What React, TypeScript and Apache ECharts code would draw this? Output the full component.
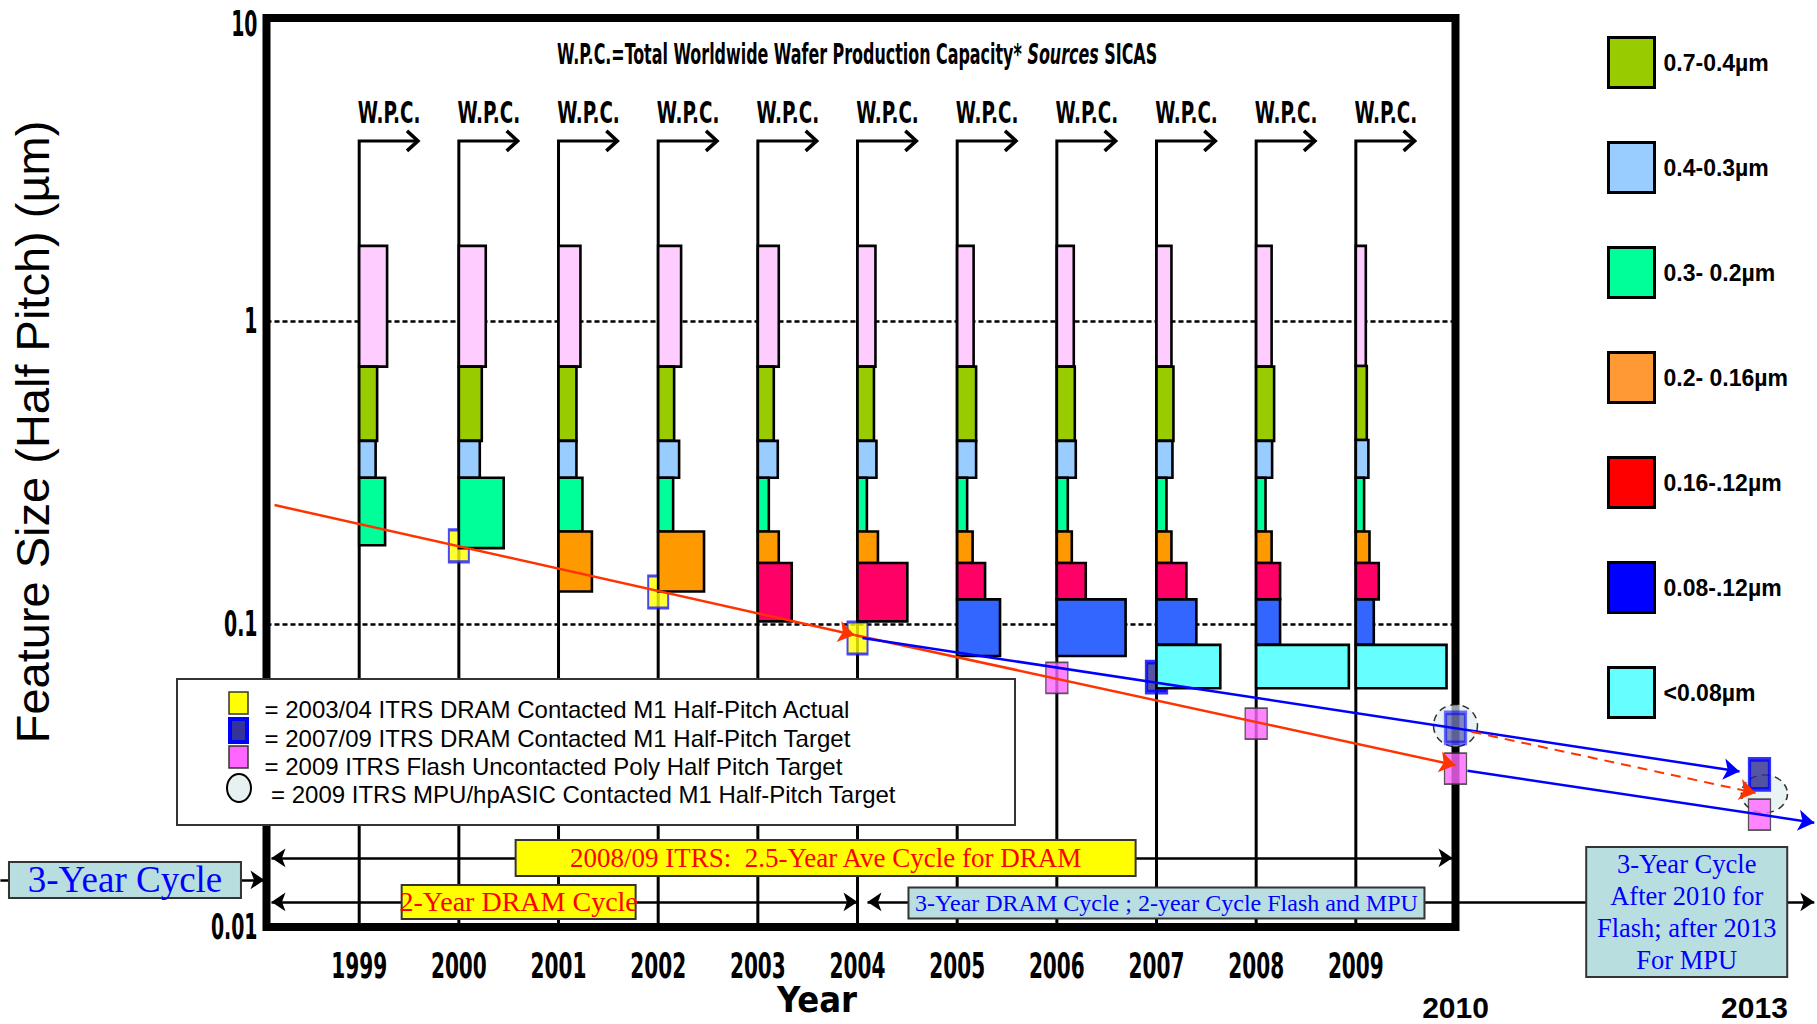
import React, { useEffect, useRef } from "react";
import * as echarts from "echarts";

const NARROW = "'Liberation Sans Narrow', 'Arial Narrow', 'DejaVu Sans Condensed', sans-serif";
const SANS = "'Liberation Sans', Arial, Helvetica, sans-serif";
const SERIF = "'Liberation Serif', 'Times New Roman', serif";

// Years that carry a W.P.C. (wafer production capacity) profile
const years = [1999, 2000, 2001, 2002, 2003, 2004, 2005, 2006, 2007, 2008, 2009];
const wpcLevel = 3.93; // feature size where each W.P.C. arrow turns right
const wpcArrowYears = 0.59; // horizontal length of each W.P.C. arrow

// Tick labels of the log feature-size axis
const yTicks = [10, 1, 0.1, 0.01];
const xStart = 1998.07;
const xEnd = 2010;

// Feature-size bands, top to bottom
const bandNames = [">0.7µm", "0.7-0.4µm", "0.4-0.3µm", "0.3- 0.2µm", "0.2- 0.16µm", "0.16-.12µm", "0.08-.12µm", "<0.08µm"];
const barColors = ["#FFCCFF", "#99CC00", "#99CCFF", "#00FF99", "#FF9900", "#FF0066", "#3366FF", "#66FFFF"];
const legendColors = ["#FFCCFF", "#99CC00", "#99CCFF", "#00FF99", "#FF9933", "#FF0000", "#0000FF", "#66FFFF"];
const bandTop = 1.77;

// Share of capacity per band and year (bar width, in years of the x scale)
const widthAbove07 = [0.28, 0.27, 0.22, 0.23, 0.21, 0.18, 0.165, 0.17, 0.15, 0.155, 0.1];
const width07to04 = [0.18, 0.23, 0.18, 0.16, 0.16, 0.165, 0.19, 0.18, 0.17, 0.18, 0.11];
const width04to03 = [0.165, 0.21, 0.18, 0.21, 0.2, 0.19, 0.19, 0.19, 0.16, 0.16, 0.126];
const width03to02 = [0.26, 0.45, 0.24, 0.15, 0.11, 0.094, 0.1, 0.11, 0.1, 0.094, 0.083];
const width02to016 = [null, null, 0.335, 0.46, 0.21, 0.205, 0.155, 0.15, 0.15, 0.155, 0.137];
const width016to012 = [null, null, null, null, 0.34, 0.5, 0.28, 0.29, 0.3, 0.24, 0.23];
const width012to008 = [null, null, null, null, null, null, 0.43, 0.69, 0.4, 0.24, 0.18];
const widthBelow008 = [null, null, null, null, null, null, null, null, 0.64, 0.93, 0.91];

// Lower edge of each band per year (µm); the upper edge is the lower edge of the band above
const lowAbove07 = [0.707, 0.707, 0.707, 0.707, 0.707, 0.707, 0.707, 0.707, 0.707, 0.707, 0.71];
const low07to04 = [0.402, 0.402, 0.402, 0.402, 0.402, 0.402, 0.402, 0.402, 0.402, 0.402, 0.405];
const low04to03 = [0.304, 0.304, 0.304, 0.304, 0.304, 0.304, 0.304, 0.304, 0.304, 0.304, 0.304];
const low03to02 = [0.182, 0.178, 0.202, 0.202, 0.202, 0.202, 0.202, 0.202, 0.202, 0.202, 0.202];
const low02to016 = [null, null, 0.128, 0.128, 0.159, 0.159, 0.159, 0.159, 0.159, 0.159, 0.159];
const low016to012 = [null, null, null, null, 0.102, 0.102, 0.1206, 0.1206, 0.1206, 0.1206, 0.1206];
const low012to008 = [null, null, null, null, null, null, 0.0784, 0.0784, 0.0853, 0.0853, 0.0853];
const lowBelow008 = [null, null, null, null, null, null, null, null, 0.0614, 0.0614, 0.0614];

const bandWidths = [widthAbove07, width07to04, width04to03, width03to02, width02to016, width016to012, width012to008, widthBelow008];
const bandLows = [lowAbove07, low07to04, low04to03, low03to02, low02to016, low016to012, low012to008, lowBelow008];

// ITRS half-pitch points [year, µm]
const dramActual = [[2000, 0.181], [2002, 0.1275], [2004, 0.0899]];
const dramTarget = [[2007, 0.0668], [2010, 0.0454], [2013.05, 0.0319]];
const flashTarget = [[2006, 0.0664], [2008, 0.0469], [2010, 0.0333], [2013.05, 0.0235]];
const mpuTarget = [[2010, 0.0462], [2013.1, 0.0275]];

// Trend lines [year, µm]
const dramTrendActual = [[1998.15, 0.247], [2003.97, 0.092], [2010, 0.0342]];
const dramTrendTarget = [[2004.05, 0.0899], [2012.85, 0.0326]];
const flashTrend = [[2010.12, 0.0328], [2013.6, 0.0221]];
const mpuTrend = [[2010.16, 0.0441], [2013.01, 0.0277]];

// Cycle spans: [from year, to year, level]
const cycleSpans = [
  [1998.12, 2009.97, 0.0169],
  [1998.12, 2004.0, 0.0121],
  [2004.1, 2013.6, 0.0121],
];
const leadInSpan = [1995.4, 1998.05, 0.0143];

const noteTexts = [
  "3-Year Cycle",
  "2008/09 ITRS:  2.5-Year Ave Cycle for DRAM",
  "2-Year DRAM Cycle",
  "3-Year DRAM Cycle ; 2-year Cycle Flash and MPU",
  "3-Year Cycle\nAfter 2010 for\nFlash; after 2013\nFor MPU",
];
const notePositions = [[1996.65, 0.0143], [2003.68, 0.0169], [2000.6, 0.0121], [2007.1, 0.012], [2012.32, 0.0112]];

const milestoneYears = [2010, 2013];

const legendRows = [
  "= 2003/04 ITRS DRAM Contacted M1 Half-Pitch Actual",
  "= 2007/09 ITRS DRAM Contacted M1 Half-Pitch Target",
  "= 2009 ITRS Flash Uncontacted Poly Half Pitch Target",
  "= 2009 ITRS MPU/hpASIC Contacted M1 Half-Pitch Target",
];

const TEAL = "#B9DEE0";
const noteBoxes = [
  { w: 232, h: 36, fill: TEAL, color: "#0000FF", size: 37, lh: 36 },
  { w: 620, h: 36, fill: "#FFFF00", color: "#FF0000", size: 27, lh: 32 },
  { w: 234, h: 34, fill: "#FFFF00", color: "#FF0000", size: 28, lh: 32 },
  { w: 516, h: 31, fill: TEAL, color: "#0000FF", size: 24, lh: 28 },
  { w: 201, h: 130, fill: TEAL, color: "#0000FF", size: 26.5, lh: 32 },
];

function textStyle(extra: any) {
  const s: any = { fill: "#000", ...extra };
  if (s.align) s.textAlign = s.align;
  if (s.verticalAlign) s.textVerticalAlign = s.verticalAlign;
  return s;
}

function bandData(b: number) {
  const out: number[][] = [];
  years.forEach((yr, i) => {
    const w = bandWidths[b][i];
    const lo = bandLows[b][i];
    if (w == null || lo == null) return;
    const hi = b === 0 ? bandTop : (bandLows[b - 1][i] as number);
    out.push([yr, lo, hi, w]);
  });
  return out;
}

function bandSeries(b: number) {
  const color = barColors[b];
  return {
    type: "custom",
    name: bandNames[b],
    z: 4,
    itemStyle: { color: legendColors[b] },
    encode: { x: 0, y: [1, 2] },
    data: bandData(b),
    renderItem: (_p: any, api: any) => {
      const x0 = api.value(0);
      const lo = api.value(1);
      const hi = api.value(2);
      const w = api.value(3);
      const a = api.coord([x0, hi]);
      const c = api.coord([x0 + w, lo]);
      return {
        type: "rect",
        shape: { x: a[0], y: a[1], width: c[0] - a[0], height: c[1] - a[1] },
        style: { fill: color, stroke: "#000", lineWidth: 2.6 },
      };
    },
  };
}

function renderWpc(_p: any, api: any) {
  const yr = api.value(0);
  const lvl = api.value(1);
  const base = api.coord([yr, 0.01]);
  const corner = api.coord([yr, lvl]);
  const tip = api.coord([yr + wpcArrowYears, lvl]);
  return {
    type: "group",
    children: [
      {
        type: "polyline",
        shape: { points: [base, corner, tip] },
        style: { stroke: "#000", lineWidth: 3, fill: "none", lineJoin: "miter" },
      },
      {
        type: "polyline",
        shape: { points: [[tip[0] - 11, tip[1] - 10], [tip[0], tip[1]], [tip[0] - 11, tip[1] + 10]] },
        style: { stroke: "#000", lineWidth: 3.5, fill: "none" },
      },
      {
        type: "text",
        x: corner[0] + 30,
        y: corner[1] - 28,
        scaleX: 0.68,
        style: textStyle({ text: "W.P.C.", fontSize: 30, fontWeight: "bold", fontFamily: NARROW, align: "center", verticalAlign: "middle" }),
      },
    ],
  };
}

function renderYearLabel(_p: any, api: any) {
  const p = api.coord([api.value(0), 0.01]);
  return {
    type: "text",
    x: p[0],
    y: p[1] + 38,
    scaleX: 0.62,
    style: textStyle({ text: String(api.value(0)), fontSize: 36, fontWeight: "bold", fontFamily: NARROW, align: "center", verticalAlign: "middle" }),
  };
}

function renderYTick(_p: any, api: any) {
  const v = api.value(1);
  const p = api.coord([api.value(0), v]);
  return {
    type: "text",
    x: p[0] - 9,
    // keep the top label inside the canvas
    y: Math.max(p[1], 24),
    scaleX: 0.6,
    style: textStyle({ text: String(v), fontSize: 35, fontWeight: "bold", fontFamily: NARROW, align: "right", verticalAlign: "middle" }),
  };
}

function renderMilestone(_p: any, api: any) {
  const p = api.coord([api.value(0), 0.01]);
  return {
    type: "text",
    x: p[0],
    y: p[1] + 80,
    style: textStyle({ text: String(api.value(0)), fontSize: 30, fontWeight: "bold", fontFamily: SANS, align: "center", verticalAlign: "middle" }),
  };
}

function renderNote(params: any, api: any) {
  const i = params.dataIndex;
  const box = noteBoxes[i];
  const p = api.coord([api.value(0), api.value(1)]);
  return {
    type: "group",
    children: [
      {
        type: "rect",
        shape: { x: p[0] - box.w / 2, y: p[1] - box.h / 2, width: box.w, height: box.h },
        style: { fill: box.fill, stroke: "#333", lineWidth: 2 },
      },
      {
        type: "text",
        x: p[0],
        y: p[1],
        style: textStyle({
          text: noteTexts[i],
          fill: box.color,
          fontSize: box.size,
          lineHeight: box.lh,
          fontFamily: SERIF,
          align: "center",
          verticalAlign: "middle",
        }),
      },
    ],
  };
}

function buildOption() {
  const textRow = (t: string, x: number, y: number) => ({
    type: "text",
    z: 101,
    x,
    y,
    style: textStyle({ text: t, fontSize: 24, fontFamily: SANS, align: "left", verticalAlign: "middle" }),
  });

  const trendLine = (color: string, extra: any = {}) => ({ color, width: 2.5, opacity: 1, ...extra });

  return {
    animation: false,
    backgroundColor: "#fff",
    grid: {
      left: 266.5,
      top: 18,
      width: 1189,
      height: 909,
      outerBoundsMode: "none",
      containLabel: false,
      show: true,
      borderColor: "#000",
      borderWidth: 8,
      backgroundColor: "rgba(0,0,0,0)",
    },
    xAxis: {
      type: "value",
      min: xStart,
      max: xEnd,
      axisLine: { show: false },
      axisTick: { show: false },
      splitLine: { show: false },
      axisLabel: { show: false },
      name: "Year",
      nameLocation: "middle",
      nameGap: 54,
      nameTextStyle: { color: "#000", fontFamily: NARROW, fontWeight: "bold", fontSize: 36, lineHeight: 36, padding: [0, 88, 0, 0] },
    },
    yAxis: {
      type: "log",
      logBase: 10,
      min: 0.01,
      max: 10,
      axisLine: { show: false },
      axisTick: { show: false },
      minorTick: { show: false },
      axisLabel: { show: false },
      splitLine: { show: true, lineStyle: { color: "#000", width: 2.5, type: [5, 3] } },
    },
    legend: {
      orient: "vertical",
      left: 1607,
      top: 36,
      padding: 0,
      itemWidth: 46,
      itemHeight: 50,
      itemGap: 52,
      icon: "rect",
      selectedMode: false,
      itemStyle: { borderColor: "#000", borderWidth: 3 },
      textStyle: { color: "#000", fontFamily: SANS, fontWeight: "bold", fontSize: 23, padding: [0, 0, 6, 4] },
      data: bandNames.slice(1).map((name, i) => ({
        name,
        itemStyle: { color: legendColors[i + 1], borderColor: "#000", borderWidth: 3 },
      })),
    },
    graphic: [
      {
        type: "text",
        z: 50,
        x: 857,
        y: 54,
        scaleX: 0.632,
        style: {
          text: "{t|W.P.C.=Total Worldwide Wafer Production Capacity* }{i|Sources}{t| SICAS}",
          align: "center",
          verticalAlign: "middle",
          textAlign: "center",
          textVerticalAlign: "middle",
          rich: {
            t: { fontFamily: NARROW, fontWeight: "bold", fontSize: 28, fill: "#000", color: "#000" },
            i: { fontFamily: NARROW, fontWeight: "bold", fontStyle: "italic", fontSize: 28, fill: "#000", color: "#000" },
          },
        },
      },
      {
        type: "text",
        z: 50,
        x: 32,
        y: 432,
        rotation: Math.PI / 2,
        style: textStyle({ text: "Feature Size (Half Pitch) (µm)", fontSize: 47, fontFamily: SANS, align: "center", verticalAlign: "middle" }),
      },
      {
        type: "group",
        z: 100,
        children: [
          { type: "rect", z: 100, shape: { x: 177, y: 679, width: 838, height: 146 }, style: { fill: "#fff", stroke: "#333", lineWidth: 2 } },
          { type: "rect", z: 101, shape: { x: 229, y: 692, width: 19, height: 22 }, style: { fill: "#FFFF00", stroke: "#333", lineWidth: 1.5 } },
          { type: "rect", z: 101, shape: { x: 230, y: 719, width: 17, height: 23 }, style: { fill: "#333399", stroke: "#0000FF", lineWidth: 4 } },
          { type: "rect", z: 101, shape: { x: 229, y: 746, width: 19, height: 22 }, style: { fill: "#FF66FF", stroke: "#333", lineWidth: 1.5 } },
          { type: "ellipse", z: 101, shape: { cx: 239, cy: 788, rx: 12, ry: 14 }, style: { fill: "#E6F2F2", stroke: "#000", lineWidth: 2 } },
          textRow(legendRows[0], 264.5, 709),
          textRow(legendRows[1], 264.5, 738),
          textRow(legendRows[2], 264.5, 766),
          textRow(legendRows[3], 271, 794),
        ],
      },
    ],
    series: [
      {
        type: "custom",
        name: "W.P.C.",
        z: 1,
        silent: true,
        encode: { x: 0, y: 1 },
        data: years.map((y) => [y, wpcLevel]),
        renderItem: renderWpc,
      },
      {
        type: "custom",
        name: "year labels",
        z: 8,
        silent: true,
        encode: { x: 0 },
        data: years.map((y) => [y]),
        renderItem: renderYearLabel,
      },
      {
        type: "custom",
        name: "feature size ticks",
        z: 8,
        silent: true,
        encode: { x: 0, y: 1 },
        data: yTicks.map((v) => [xStart, v]),
        renderItem: renderYTick,
      },
      {
        type: "custom",
        name: "milestones",
        z: 8,
        silent: true,
        encode: { x: 0 },
        data: milestoneYears.map((y) => [y]),
        renderItem: renderMilestone,
      },
      {
        type: "scatter",
        name: "2009 ITRS MPU/hpASIC Contacted M1 Half-Pitch Target",
        z: 2,
        clip: false,
        silent: true,
        symbol: "circle",
        data: mpuTarget.map((p, i) => ({ value: p, symbolSize: i === 0 ? [44, 42] : [46, 38] })),
        itemStyle: { color: "rgba(222,238,238,0.85)", borderColor: "#000", borderWidth: 1.5, borderType: [7, 5] },
      },
      {
        type: "scatter",
        name: "2003/04 ITRS DRAM Contacted M1 Half-Pitch Actual",
        z: 3,
        clip: false,
        silent: true,
        symbol: "rect",
        symbolSize: [20, 32],
        data: dramActual,
        itemStyle: { color: "#FFFF00", borderColor: "#1A1AFF", borderWidth: 2.5 },
      },
      {
        type: "scatter",
        name: "2007/09 ITRS DRAM Contacted M1 Half-Pitch Target",
        z: 3,
        clip: false,
        silent: true,
        symbol: "rect",
        symbolSize: [20, 30],
        data: dramTarget.map((p, i) => (i === 1 ? { value: p, itemStyle: { opacity: 0.55 } } : { value: p })),
        itemStyle: { color: "#2B2B8C", borderColor: "#0000FF", borderWidth: 4 },
      },
      {
        type: "scatter",
        name: "2009 ITRS Flash Uncontacted Poly Half Pitch Target",
        z: 3,
        clip: false,
        silent: true,
        symbol: "rect",
        symbolSize: [22, 31],
        data: flashTarget,
        itemStyle: { color: "#FF66FF", borderColor: "#333", borderWidth: 1.5 },
      },
      ...bandNames.map((_, b) => bandSeries(b)),
      {
        type: "lines",
        name: "trends",
        z: 5,
        coordinateSystem: "cartesian2d",
        clip: false,
        silent: true,
        symbol: ["none", "arrow"],
        symbolSize: 16,
        lineStyle: { opacity: 1 },
        data: [
          { coords: [dramTrendActual[0], dramTrendActual[1]], lineStyle: trendLine("#FF3300") },
          { coords: [dramTrendActual[1], dramTrendActual[2]], lineStyle: trendLine("#FF3300") },
          { coords: dramTrendTarget, lineStyle: trendLine("#0000FF") },
          { coords: flashTrend, lineStyle: trendLine("#0000FF") },
          { coords: mpuTrend, lineStyle: trendLine("#FF3300", { width: 2, type: [10, 7] }) },
        ],
      },
      {
        type: "lines",
        name: "cycles",
        z: 6,
        coordinateSystem: "cartesian2d",
        clip: false,
        silent: true,
        symbol: ["arrow", "arrow"],
        symbolSize: 14,
        lineStyle: { color: "#000", width: 2.5, opacity: 1 },
        data: cycleSpans.map(([a, b, y]) => ({ coords: [[a, y], [b, y]] })),
      },
      {
        type: "lines",
        name: "cycle lead-in",
        z: 6,
        coordinateSystem: "cartesian2d",
        clip: false,
        silent: true,
        symbol: ["none", "arrow"],
        symbolSize: 14,
        lineStyle: { color: "#000", width: 2.5, opacity: 1 },
        data: [{ coords: [[leadInSpan[0], leadInSpan[2]], [leadInSpan[1], leadInSpan[2]]] }],
      },
      {
        type: "custom",
        name: "cycle notes",
        z: 7,
        silent: true,
        encode: { x: 0, y: 1 },
        data: notePositions,
        renderItem: renderNote,
      },
    ],
  };
}

export default function App() {
  const ref = useRef<HTMLDivElement>(null);
  useEffect(() => {
    document.body.style.margin = "0";
    const chart = echarts.init(ref.current as HTMLDivElement, null, { renderer: "svg" });
    chart.setOption(buildOption() as any);
    return () => chart.dispose();
  }, []);
  return <div ref={ref} style={{ width: 1817, height: 1024 }} />;
}
